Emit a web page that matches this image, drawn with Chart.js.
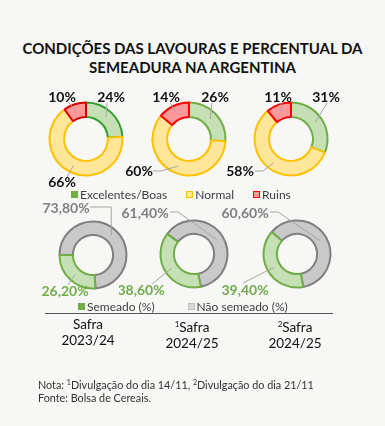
<!DOCTYPE html>
<html>
<head>
<meta charset="utf-8">
<script src="https://cdn.jsdelivr.net/npm/chart.js@4.4.1/dist/chart.umd.min.js"></script>
<style>
    html, body { margin: 0; padding: 0; }
    body {
        width: 385px; height: 426px; position: relative; overflow: hidden;
        background: #f7f7f5; font-family: Lato, "Open Sans", sans-serif; color: #1a1a1a;
    }
    .title {
        position: absolute; left: 0; width: 385px; top: 39px; text-align: center;
        font-weight: 700; font-size: 15px; line-height: 19px; color: #111;
    }
    canvas { position: absolute; }
    .legend { position: absolute; font-size: 12px; color: #404040; white-space: nowrap; }
    .legend i {
        display: inline-block; width: 5px; height: 5px; border: 1px solid; margin-right: 2px;
        vertical-align: 1px;
    }
    .rule { position: absolute; left: 45px; width: 288px; top: 313px; border-top: 1.5px solid #555; }
    .cat { position: absolute; width: 90px; text-align: center; font-size: 13.5px; line-height: 16px; top: 316px; color: #111; }
    .cat sup { font-size: 8px; vertical-align: 5px; }
    .note { position: absolute; left: 38px; top: 376px; font-size: 10.8px; line-height: 13px; color: #333; }
    .note sup { font-size: 7px; vertical-align: 4px; }
</style>
</head>
<body>
<div class="title">CONDIÇÕES DAS LAVOURAS E PERCENTUAL DA<br>SEMEADURA NA ARGENTINA</div>

<canvas id="cond0" width="150" height="110" style="left:11px;top:84px"></canvas>
<canvas id="cond1" width="150" height="110" style="left:114px;top:84px"></canvas>
<canvas id="cond2" width="150" height="110" style="left:216px;top:84px"></canvas>

<div class="legend" id="legendCond" style="left:71px;top:187px"></div>

<canvas id="sow0" width="150" height="120" style="left:18px;top:195px"></canvas>
<canvas id="sow1" width="150" height="120" style="left:119px;top:194px"></canvas>
<canvas id="sow2" width="150" height="120" style="left:222px;top:194px"></canvas>

<div class="legend" id="legendSow" style="left:78px;top:299px"></div>
<div class="rule"></div>

<div class="cat" style="left:43px">Safra<br>2023/24</div>
<div class="cat" style="left:147px"><sup>1</sup>Safra<br>2024/25</div>
<div class="cat" style="left:250px"><sup>2</sup>Safra<br>2024/25</div>

<div class="note">Nota: <sup>1</sup>Divulgação do dia 14/11, <sup>2</sup>Divulgação do dia 21/11<br>Fonte: Bolsa de Cereais.</div>

<script>
// condições das lavouras (%)
const condLabels = ['Excelentes/Boas', 'Normal', 'Ruins'];
const condSafra2324 = [24, 66, 10];
const condSafra2425a = [26, 60, 14];
const condSafra2425b = [31, 58, 11];

// semeadura (%)
const sowLabels = ['Não semeado (%)', 'Semeado (%)'];
const naoSemeado = [73.8, 61.4, 60.6];
const semeado = [26.2, 38.6, 39.4];

const condFill = ['#c5e0b4', '#ffe699', '#ff9999'];
const condBorders = [
    ['#2e9e2e', '#ffc000', '#d40000'],
    ['#70ad47', '#ffc000', '#ff0000'],
    ['#70ad47', '#ffc000', '#ff0000']
];
const sowFill = ['#c9c9c9', '#c5e0b4'];
const sowBorder = ['#7f7f7f', '#70ad47'];

// label placement per slice: label center offset, line start offset, elbow
const condLabelPos = [
    [{ dx: 25, dy: -42, sx: -4, sy: 6 }, { dx: -24, dy: 43, sx: 5, sy: -5 }, { dx: -24, dy: -42, sx: 7, sy: 6 }],
    [{ dx: 26, dy: -42, sx: -3, sy: 6 }, { dx: -50, dy: 32, sx: 14, sy: 0, elbow: 8 }, { dx: -23, dy: -42, sx: 4, sy: 6 }],
    [{ dx: 35, dy: -42, sx: 1, sy: 6 }, { dx: -51, dy: 32, sx: 15, sy: 0, elbow: 8 }, { dx: -13, dy: -42, sx: 3, sy: 6 }]
];
const sowLabelPos = [
    [{ dx: -27, dy: -47, sx: 24, sy: -1, elbow: 'h' }, { dx: -28, dy: 36, sx: 3, sy: -6 }],
    [{ dx: -49, dy: -41, sx: 25, sy: -1, elbow: 8 }, { dx: -53, dy: 36, sx: 11, sy: -6 }],
    [{ dx: -52, dy: -41, sx: 25, sy: -1, elbow: 8 }, { dx: -52, dy: 36, sx: -2, sy: -7 }]
];
const sowRotation = [-90, -53, -49];

const sliceLabels = {
    id: 'sliceLabels',
    afterDatasetsDraw(chart, args, opts) {
        const ctx = chart.ctx;
        const meta = chart.getDatasetMeta(0);
        meta.data.forEach((arc, i) => {
            const p = opts.pos[i];
            const { x, y, startAngle, endAngle, innerRadius, outerRadius } = arc.getProps(
                ['x', 'y', 'startAngle', 'endAngle', 'innerRadius', 'outerRadius'], true);
            const mid = (startAngle + endAngle) / 2;
            const r = (innerRadius + outerRadius) / 2;
            const ax = x + Math.cos(mid) * r;
            const ay = y + Math.sin(mid) * r;
            const lx = x + p.dx, ly = y + p.dy;

            ctx.save();
            ctx.strokeStyle = '#a6a6a6';
            ctx.lineWidth = 1;
            ctx.beginPath();
            ctx.moveTo(lx + p.sx, ly + p.sy);
            if (p.elbow === 'h') {
                ctx.lineTo(ax, ly + p.sy);
            } else if (p.elbow) {
                ctx.lineTo(lx + p.sx + p.elbow, ly + p.sy);
            }
            ctx.lineTo(ax, ay);
            ctx.stroke();

            ctx.font = 'bold 14px Lato, sans-serif';
            ctx.textAlign = 'center';
            ctx.textBaseline = 'middle';
            ctx.fillStyle = opts.colors[i];
            ctx.fillText(opts.format(chart.data.datasets[0].data[i]), lx, ly);
            ctx.restore();
        });
    }
};

function makeDonut(id, labels, data, fill, border, radius, rotation, pos, colors, format) {
    return new Chart(document.getElementById(id), {
        type: 'doughnut',
        data: {
            labels: labels,
            datasets: [{
                data: data,
                backgroundColor: fill,
                borderColor: border,
                borderWidth: 2
            }]
        },
        options: {
            responsive: false,
            animation: false,
            radius: radius,
            cutout: '60%',
            rotation: rotation,
            layout: { padding: 0 },
            plugins: {
                legend: { display: false },
                tooltip: { enabled: false },
                sliceLabels: { pos: pos, colors: colors, format: format }
            }
        },
        plugins: [sliceLabels]
    });
}

const pct = v => v + '%';
const pctBr = v => v.toFixed(2).replace('.', ',') + '%';

[condSafra2324, condSafra2425a, condSafra2425b].forEach((vals, k) => {
    makeDonut('cond' + k, condLabels, vals, condFill, condBorders[k], 36.5, 0,
        condLabelPos[k], ['#111', '#111', '#111'], pct);
});

naoSemeado.forEach((v, k) => {
    makeDonut('sow' + k, sowLabels, [v, semeado[k]], sowFill, sowBorder, 33.5, sowRotation[k],
        sowLabelPos[k], ['#7f7f7f', '#70ad47'], pctBr);
});

function buildLegend(el, items, gaps) {
    document.getElementById(el).innerHTML = items.map((it, i) =>
        `<span style="margin-left:${gaps[i]}px"><i style="background:${it.fill};border-color:${it.border}"></i>${it.label}</span>`
    ).join('');
}

buildLegend('legendCond', [
    { label: condLabels[0], fill: '#70ad47', border: '#70ad47' },
    { label: condLabels[1], fill: '#ffe699', border: '#ffc000' },
    { label: condLabels[2], fill: '#ff9999', border: '#ff0000' }
], [0, 19, 19]);

buildLegend('legendSow', [
    { label: sowLabels[1], fill: '#70ad47', border: '#70ad47' },
    { label: sowLabels[0], fill: '#d9d9d9', border: '#bfbfbf' }
], [0, 33]);
</script>
</body>
</html>
